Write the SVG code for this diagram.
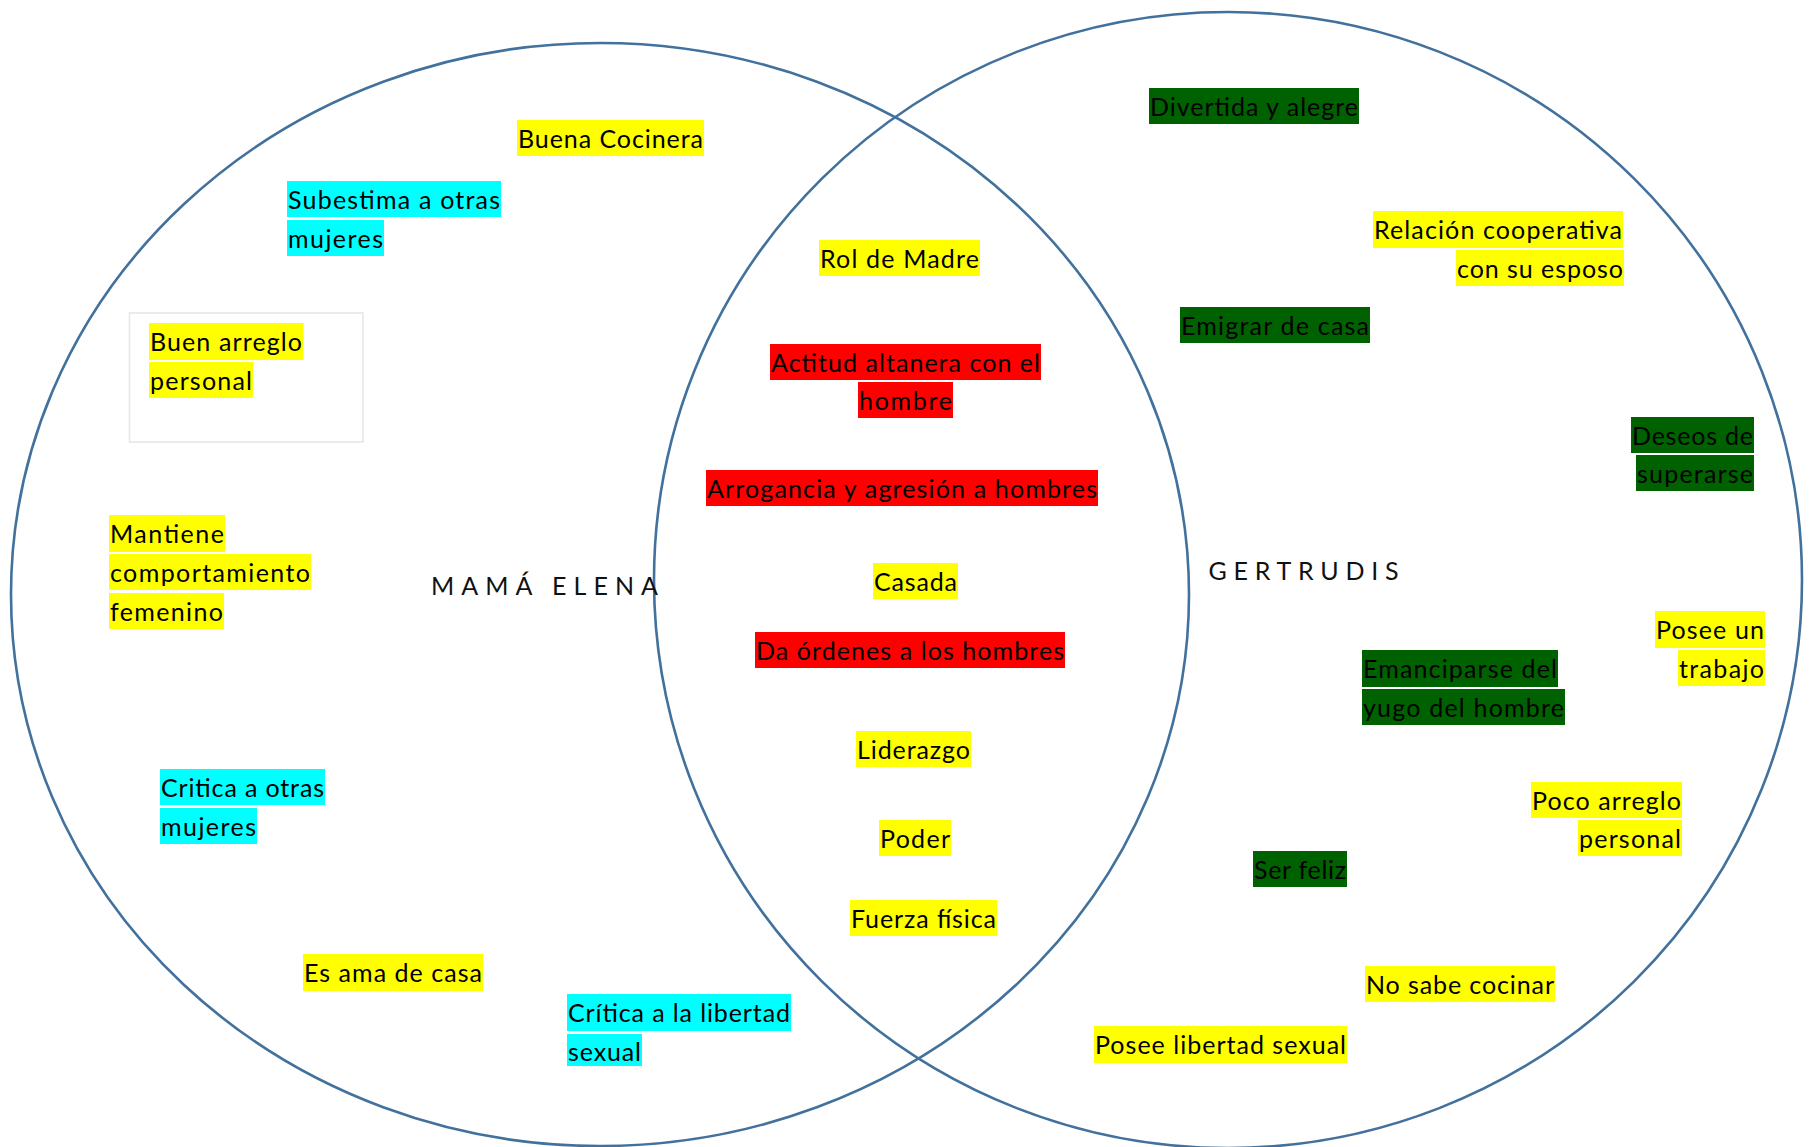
<svg xmlns="http://www.w3.org/2000/svg" width="1809" height="1147" viewBox="0 0 1809 1147">
<style>
.set{fill:none;stroke:#41719C;stroke-width:2.6}
.y{fill:#FFFF00}.c{fill:#00FFFF}.r{fill:#FF0000}.g{fill:#006100}
.t{font-family:Lato,"Liberation Sans",sans-serif;font-size:25px;fill:#000}
.lbl{font-family:Lato,"Liberation Sans",sans-serif;font-size:25px;fill:#111}
</style>
<rect width="1809" height="1147" fill="#fff"/>
<g id="sets">
<ellipse id="set-mama-elena" class="set" cx="600" cy="594.5" rx="589" ry="551.5"/>
<ellipse id="set-gertrudis" class="set" cx="1228" cy="580" rx="574" ry="568"/>
</g>
<g id="label-mama-elena"><text class="lbl" x="431" y="595" textLength="227">MAMÁ ELENA</text></g>
<g id="label-gertrudis"><text class="lbl" x="1208.5" y="580" textLength="190">GERTRUDIS</text></g>
<g id="connectors"/>
<g id="n-buena-cocinera"><rect class="y" x="517" y="120" width="187" height="36"/><text class="t" x="518" y="148" textLength="185">Buena Cocinera</text></g>
<g id="n-subestima"><rect class="c" x="287" y="181" width="214" height="36"/><rect class="c" x="287" y="220" width="97" height="36"/><text class="t" x="288" y="209" textLength="212">Subestima a otras</text><text class="t" x="288" y="248" textLength="95">mujeres</text></g>
<g id="n-buen-arreglo"><rect x="129.5" y="313" width="233.5" height="129" fill="#fff" stroke="#e6e6e6" stroke-width="1.6"/><rect class="y" x="149" y="323" width="154.6" height="37"/><rect class="y" x="149" y="362" width="104" height="36"/><text class="t" x="150" y="351" textLength="152">Buen arreglo</text><text class="t" x="150" y="390" textLength="102">personal</text></g>
<g id="n-mantiene"><rect class="y" x="109" y="515" width="116" height="37"/><rect class="y" x="109" y="554" width="202" height="36"/><rect class="y" x="109" y="593" width="115" height="36"/><text class="t" x="110" y="543" textLength="114">Mantiene</text><text class="t" x="110" y="582" textLength="200">comportamiento</text><text class="t" x="110" y="621" textLength="113">femenino</text></g>
<g id="n-critica-otras"><rect class="c" x="160" y="769" width="165" height="36"/><rect class="c" x="160" y="808" width="97" height="36"/><text class="t" x="161" y="797" textLength="163">Critica a otras</text><text class="t" x="161" y="836" textLength="95">mujeres</text></g>
<g id="n-ama-de-casa"><rect class="y" x="303" y="954" width="180" height="37"/><text class="t" x="304" y="982" textLength="178">Es ama de casa</text></g>
<g id="n-critica-libertad"><rect class="c" x="567" y="994" width="224" height="37"/><rect class="c" x="567" y="1034" width="75" height="32"/><text class="t" x="568" y="1022" textLength="222">Crítica a la libertad</text><text class="t" x="568" y="1061" textLength="73">sexual</text></g>
<g id="n-rol-madre"><rect class="y" x="819" y="240" width="161" height="36"/><text class="t" x="820" y="268" textLength="159">Rol de Madre</text></g>
<g id="n-actitud"><rect class="r" x="770" y="344" width="271" height="36"/><rect class="r" x="858" y="382" width="95" height="36"/><text class="t" x="771" y="372" textLength="269">Actitud altanera con el</text><text class="t" x="859" y="410" textLength="93">hombre</text></g>
<g id="n-arrogancia"><rect class="r" x="706" y="470" width="392" height="36"/><text class="t" x="707" y="498" textLength="390">Arrogancia y agresión a hombres</text></g>
<g id="n-casada"><rect class="y" x="873" y="563" width="85" height="36"/><text class="t" x="874" y="591" textLength="83">Casada</text></g>
<g id="n-ordenes"><rect class="r" x="755" y="632" width="310" height="36"/><text class="t" x="756" y="660" textLength="308">Da órdenes a los hombres</text></g>
<g id="n-liderazgo"><rect class="y" x="856" y="731" width="115" height="36"/><text class="t" x="857" y="759" textLength="113">Liderazgo</text></g>
<g id="n-poder"><rect class="y" x="879" y="820" width="72" height="36"/><text class="t" x="880" y="848" textLength="70">Poder</text></g>
<g id="n-fuerza"><rect class="y" x="850" y="900" width="147" height="36"/><text class="t" x="851" y="928" textLength="145">Fuerza física</text></g>
<g id="n-divertida"><rect class="g" x="1149" y="88" width="210" height="36"/><text class="t" x="1150" y="116" textLength="208">Divertida y alegre</text></g>
<g id="n-relacion"><rect class="y" x="1373" y="211" width="250" height="37"/><rect class="y" x="1456" y="250" width="168" height="36"/><text class="t" x="1374" y="239" textLength="248">Relación cooperativa</text><text class="t" x="1457" y="278" textLength="166">con su esposo</text></g>
<g id="n-emigrar"><rect class="g" x="1180" y="307" width="190" height="36"/><text class="t" x="1181" y="335" textLength="188">Emigrar de casa</text></g>
<g id="n-deseos"><rect class="g" x="1631" y="417" width="123" height="36"/><rect class="g" x="1636" y="455" width="118" height="36"/><text class="t" x="1632" y="445" textLength="121">Deseos de</text><text class="t" x="1637" y="483" textLength="116">superarse</text></g>
<g id="n-posee-trabajo"><rect class="y" x="1655" y="611" width="110" height="37"/><rect class="y" x="1678" y="650" width="87" height="36"/><text class="t" x="1656" y="639" textLength="108">Posee un</text><text class="t" x="1679" y="678" textLength="85">trabajo</text></g>
<g id="n-emanciparse"><rect class="g" x="1362" y="650" width="196" height="37"/><rect class="g" x="1362" y="689" width="203" height="36"/><text class="t" x="1363" y="678" textLength="194">Emanciparse del</text><text class="t" x="1363" y="717" textLength="201">yugo del hombre</text></g>
<g id="n-poco-arreglo"><rect class="y" x="1531" y="782" width="151" height="36"/><rect class="y" x="1578" y="820" width="104" height="36"/><text class="t" x="1532" y="810" textLength="149">Poco arreglo</text><text class="t" x="1579" y="848" textLength="102">personal</text></g>
<g id="n-ser-feliz"><rect class="g" x="1253" y="851" width="94" height="36"/><text class="t" x="1254" y="879" textLength="92">Ser feliz</text></g>
<g id="n-no-cocinar"><rect class="y" x="1365" y="966" width="190" height="36"/><text class="t" x="1366" y="994" textLength="188">No sabe cocinar</text></g>
<g id="n-libertad-sexual"><rect class="y" x="1094" y="1026" width="253" height="37"/><text class="t" x="1095" y="1054" textLength="251">Posee libertad sexual</text></g>
</svg>
